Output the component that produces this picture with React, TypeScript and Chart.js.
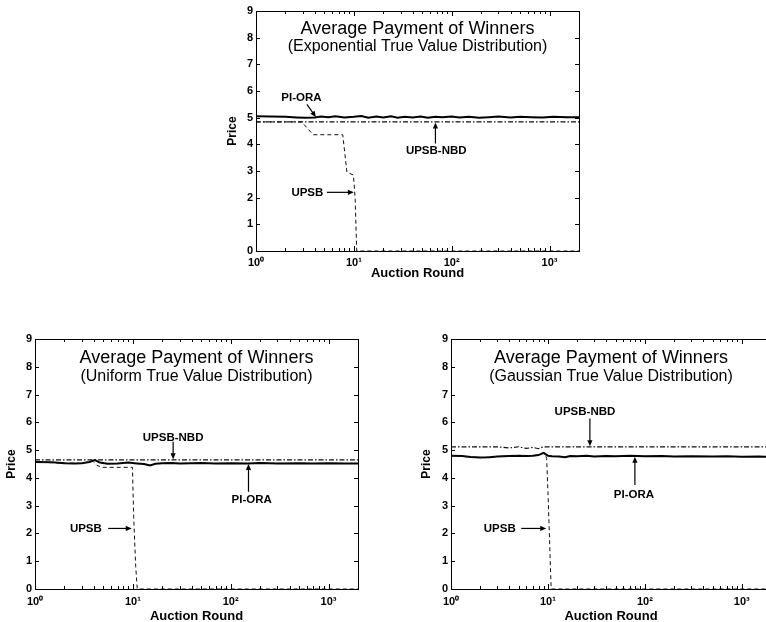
import React, { useEffect, useRef } from 'react';
import { Chart, registerables } from 'chart.js';

Chart.register(...registerables);

const FONT = '"Liberation Sans", Arial, Helvetica, sans-serif';

// ---------- axis ticks ----------
const yTickValues = [0, 1, 2, 3, 4, 5, 6, 7, 8, 9];
const xTickValues = [1, 10, 100, 1000];
const xTickLabels = ['10\u2070', '10\u00b9', '10\u00b2', '10\u00b3'];
const xMin = 1;
const xMax = 2000;

const titleLine1 = 'Average Payment of Winners';
const expSubtitle = '(Exponential True Value Distribution)';
const uniSubtitle = '(Uniform True Value Distribution)';
const gauSubtitle = '(Gaussian True Value Distribution)';

// ---------- Exponential ----------
const expPiOraRounds = [1, 1.4, 2, 2.6, 3.2, 4, 4.6, 5.5, 6.5, 8, 10, 12, 14, 17, 20, 24, 28, 33, 40, 48, 57, 68, 80, 100, 120, 150, 190, 240, 300, 400, 500, 650, 850, 1100, 1500, 2000];
const expPiOraPrice = [5.05, 5.04, 5.03, 5.01, 5.0, 5.01, 5.04, 5.02, 5.05, 5.01, 5.03, 5.06, 5.0, 5.04, 5.01, 5.05, 5.0, 5.03, 5.01, 5.04, 5.0, 5.03, 5.02, 5.04, 5.01, 5.03, 5.0, 5.02, 5.04, 5.01, 5.03, 5.02, 5.01, 5.03, 5.02, 5.02];
const expNbdRounds = [1, 2000];
const expNbdPrice = [4.84, 4.84];
const expUpsbRounds = [1, 2.93, 3.85, 7.7, 8.5, 9.9, 10.3, 10.7, 2000];
const expUpsbPrice = [4.84, 4.84, 4.36, 4.36, 2.95, 2.85, 2.0, 0, 0];

// ---------- Uniform ----------
const uniPiOraRounds = [1, 1.5, 2, 2.5, 3, 3.6, 4.1, 4.6, 5.5, 7, 9, 11, 13, 15, 17, 20, 25, 30, 40, 50, 70, 100, 150, 200, 300, 500, 700, 1000, 1500, 2000];
const uniPiOraPrice = [4.57, 4.56, 4.53, 4.52, 4.53, 4.57, 4.64, 4.55, 4.51, 4.52, 4.55, 4.52, 4.5, 4.45, 4.51, 4.53, 4.54, 4.52, 4.53, 4.54, 4.52, 4.53, 4.52, 4.54, 4.52, 4.53, 4.52, 4.53, 4.52, 4.52];
const uniNbdRounds = [1, 2000];
const uniNbdPrice = [4.65, 4.65];
const uniUpsbRounds = [1, 2, 3, 3.9, 4.3, 4.8, 9.9, 10.2, 10.5, 10.7, 11.1, 2000];
const uniUpsbPrice = [4.57, 4.53, 4.53, 4.6, 4.45, 4.38, 4.38, 2.6, 1.5, 0.8, 0, 0];

// ---------- Gaussian ----------
const gauPiOraRounds = [1, 1.3, 1.6, 2, 2.5, 3, 4, 5, 6, 7, 8, 9, 10, 11, 13, 15, 17, 20, 25, 30, 40, 50, 70, 100, 150, 200, 300, 500, 700, 1000, 1500, 2000];
const gauPiOraPrice = [4.8, 4.79, 4.75, 4.73, 4.74, 4.77, 4.79, 4.8, 4.79, 4.8, 4.82, 4.9, 4.8, 4.78, 4.77, 4.74, 4.79, 4.78, 4.8, 4.77, 4.79, 4.78, 4.8, 4.78, 4.79, 4.77, 4.78, 4.77, 4.78, 4.76, 4.77, 4.75];
const gauNbdRounds = [1, 3, 4, 5, 6, 7, 8, 9, 2000];
const gauNbdPrice = [5.12, 5.12, 5.08, 5.12, 5.06, 5.1, 5.05, 5.12, 5.12];
const gauUpsbRounds = [1, 2, 3, 5, 7, 8.5, 9.3, 9.7, 10, 10.3, 10.6, 10.8, 2000];
const gauUpsbPrice = [4.8, 4.73, 4.77, 4.8, 4.8, 4.85, 4.9, 4.7, 3.5, 2.2, 0.8, 0, 0];

// ---------- annotations (data coordinates) ----------
type Note = { text: string; tx: number; ty: number; from: [number, number]; to: [number, number] };

const expNotes: Note[] = [
  { text: 'PI-ORA', tx: 2.91, ty: 5.73, from: [3.31, 5.5], to: [4.1, 5.02] },
  { text: 'UPSB-NBD', tx: 69.5, ty: 3.74, from: [68.2, 4.03], to: [68.2, 4.82] },
  { text: 'UPSB', tx: 3.35, ty: 2.19, from: [5.3, 2.2], to: [10.0, 2.2] },
];
const uniNotes: Note[] = [
  { text: 'UPSB-NBD', tx: 25.8, ty: 5.45, from: [25.8, 5.3], to: [25.8, 4.67] },
  { text: 'PI-ORA', tx: 164, ty: 3.2, from: [152, 3.5], to: [152, 4.5] },
  { text: 'UPSB', tx: 3.31, ty: 2.16, from: [5.6, 2.18], to: [9.74, 2.18] },
];
const gauNotes: Note[] = [
  { text: 'UPSB-NBD', tx: 24.1, ty: 6.38, from: [27.1, 6.14], to: [27.1, 5.14] },
  { text: 'PI-ORA', tx: 77.1, ty: 3.38, from: [78.9, 3.74], to: [78.9, 4.76] },
  { text: 'UPSB', tx: 3.18, ty: 2.16, from: [5.3, 2.18], to: [9.6, 2.18] },
];

type Box = { left: number; top: number; width: number; height: number };
type Area = { left: number; top: number; right: number; bottom: number };

type PanelSpec = {
  subtitle: string;
  piRounds: number[]; piPrice: number[];
  nbdRounds: number[]; nbdPrice: number[];
  upsbRounds: number[]; upsbPrice: number[];
  notes: Note[];
  canvas: Box;
  area: Area;
  yTitlePad: number;
  xTitlePad: number;
  xTickPad: number;
};

const panels: PanelSpec[] = [
  {
    subtitle: expSubtitle,
    piRounds: expPiOraRounds, piPrice: expPiOraPrice,
    nbdRounds: expNbdRounds, nbdPrice: expNbdPrice,
    upsbRounds: expUpsbRounds, upsbPrice: expUpsbPrice,
    notes: expNotes,
    canvas: { left: 220, top: 0, width: 380, height: 290 },
    area: { left: 256, top: 11, right: 579, bottom: 251 },
    yTitlePad: 5.3,
    xTitlePad: 9,
    xTickPad: 5,
  },
  {
    subtitle: uniSubtitle,
    piRounds: uniPiOraRounds, piPrice: uniPiOraPrice,
    nbdRounds: uniNbdRounds, nbdPrice: uniNbdPrice,
    upsbRounds: uniUpsbRounds, upsbPrice: uniUpsbPrice,
    notes: uniNotes,
    canvas: { left: 0, top: 320, width: 380, height: 320 },
    area: { left: 35, top: 339, right: 358, bottom: 589 },
    yTitlePad: 4.8,
    xTitlePad: 16,
    xTickPad: 6,
  },
  {
    subtitle: gauSubtitle,
    piRounds: gauPiOraRounds, piPrice: gauPiOraPrice,
    nbdRounds: gauNbdRounds, nbdPrice: gauNbdPrice,
    upsbRounds: gauUpsbRounds, upsbPrice: gauUpsbPrice,
    notes: gauNotes,
    canvas: { left: 410, top: 320, width: 380, height: 320 },
    area: { left: 451, top: 339, right: 771, bottom: 589 },
    yTitlePad: 9.8,
    xTitlePad: 16,
    xTickPad: 6,
  },
];

const framePlugin = {
  id: 'frame',
  afterDatasetsDraw(chart: any) {
    const { ctx, chartArea } = chart;
    const { left, right, top, bottom } = chartArea;
    const xs = chart.scales.x;
    const ys = chart.scales.y;
    ctx.save();
    ctx.strokeStyle = '#000';
    ctx.lineWidth = 1;
    ctx.setLineDash([]);
    ctx.strokeRect(left + 0.5, top + 0.5, right - left, bottom - top);
    ctx.beginPath();
    for (const d of xTickValues) {
      for (let m = 1; m <= 9; m++) {
        const v = d * m;
        if (v < xMin || v > xMax) continue;
        const px = Math.round(xs.getPixelForValue(v)) + 0.5;
        const len = m === 1 ? 5 : 3;
        ctx.moveTo(px, bottom);
        ctx.lineTo(px, bottom - len);
        ctx.moveTo(px, top);
        ctx.lineTo(px, top + len);
      }
    }
    for (const v of yTickValues) {
      const py = Math.round(ys.getPixelForValue(v)) + 0.5;
      ctx.moveTo(left, py);
      ctx.lineTo(left + 4, py);
      ctx.moveTo(right, py);
      ctx.lineTo(right - 4, py);
    }
    ctx.stroke();
    ctx.restore();
  },
};

function makeNotesPlugin(spec: PanelSpec) {
  return {
    id: 'notes',
    afterDraw(chart: any) {
      const { ctx, chartArea } = chart;
      const xs = chart.scales.x;
      const ys = chart.scales.y;
      ctx.save();
      ctx.fillStyle = '#000';
      ctx.strokeStyle = '#000';
      ctx.textAlign = 'center';
      ctx.textBaseline = 'middle';
      const cx = (chartArea.left + chartArea.right) / 2;
      ctx.font = `18px ${FONT}`;
      ctx.fillText(titleLine1, cx, ys.getPixelForValue(8.33));
      ctx.font = `16px ${FONT}`;
      ctx.fillText(spec.subtitle, cx, ys.getPixelForValue(7.65));

      ctx.font = `bold 11.5px ${FONT}`;
      for (const n of spec.notes) {
        ctx.fillText(n.text, xs.getPixelForValue(n.tx), ys.getPixelForValue(n.ty));
        const x1 = xs.getPixelForValue(n.from[0]);
        const y1 = ys.getPixelForValue(n.from[1]);
        const x2 = xs.getPixelForValue(n.to[0]);
        const y2 = ys.getPixelForValue(n.to[1]);
        const ang = Math.atan2(y2 - y1, x2 - x1);
        const hl = 6;
        const hw = 2.6;
        ctx.lineWidth = 1.2;
        ctx.beginPath();
        ctx.moveTo(x1, y1);
        ctx.lineTo(x2 - Math.cos(ang) * hl * 0.8, y2 - Math.sin(ang) * hl * 0.8);
        ctx.stroke();
        ctx.beginPath();
        ctx.moveTo(x2, y2);
        ctx.lineTo(
          x2 - Math.cos(ang) * hl - Math.sin(ang) * hw,
          y2 - Math.sin(ang) * hl + Math.cos(ang) * hw
        );
        ctx.lineTo(
          x2 - Math.cos(ang) * hl + Math.sin(ang) * hw,
          y2 - Math.sin(ang) * hl - Math.cos(ang) * hw
        );
        ctx.closePath();
        ctx.fill();
      }
      ctx.restore();
    },
  };
}

function toPoints(rounds: number[], price: number[]) {
  return rounds.map((r, i) => ({ x: r, y: price[i] }));
}

function Panel({ spec }: { spec: PanelSpec }) {
  const ref = useRef<HTMLCanvasElement | null>(null);
  const c = spec.canvas;
  const a = spec.area;
  useEffect(() => {
    if (!ref.current) return;
    const chart = new Chart(ref.current, {
      type: 'line',
      data: {
        datasets: [
          {
            label: 'UPSB',
            data: toPoints(spec.upsbRounds, spec.upsbPrice),
            borderColor: '#111',
            borderWidth: 1,
            borderDash: [4, 3],
            pointRadius: 0,
            fill: false,
            tension: 0,
          },
          {
            label: 'UPSB-NBD',
            data: toPoints(spec.nbdRounds, spec.nbdPrice),
            borderColor: '#111',
            borderWidth: 1.2,
            borderDash: [5, 2, 1.5, 2],
            pointRadius: 0,
            fill: false,
            tension: 0,
          },
          {
            label: 'PI-ORA',
            data: toPoints(spec.piRounds, spec.piPrice),
            borderColor: '#000',
            borderWidth: 2,
            pointRadius: 0,
            fill: false,
            tension: 0,
          },
        ],
      } as any,
      options: {
        animation: false,
        responsive: false,
        devicePixelRatio: 1,
        layout: {
          padding: { left: 0, top: a.top - c.top, right: c.left + c.width - a.right, bottom: 0 },
        },
        plugins: {
          legend: { display: false },
          tooltip: { enabled: false },
          title: { display: false },
        },
        scales: {
          x: {
            type: 'logarithmic',
            min: xMin,
            max: xMax,
            grid: { display: false, drawTicks: false },
            border: { display: false },
            ticks: {
              autoSkip: false,
              maxRotation: 0,
              padding: spec.xTickPad,
              color: '#000',
              font: { family: FONT, size: 11, weight: 'bold' },
              callback: (v: any) => {
                const i = xTickValues.indexOf(Number(v));
                return i >= 0 ? xTickLabels[i] : '';
              },
            },
            afterBuildTicks: (s: any) => {
              s.ticks = xTickValues.map((v) => ({ value: v }));
            },
            afterFit: (s: any) => {
              s.height = c.top + c.height - a.bottom;
              s.paddingLeft = 0;
              s.paddingRight = 0;
            },
            title: {
              display: true,
              text: 'Auction Round',
              color: '#000',
              font: { family: FONT, size: 13, weight: 'bold' },
              padding: { top: 0, bottom: spec.xTitlePad },
            },
          },
          y: {
            type: 'linear',
            min: 0,
            max: 9,
            grid: { display: false, drawTicks: false },
            border: { display: false },
            ticks: {
              stepSize: 1,
              padding: 3,
              color: '#000',
              font: { family: FONT, size: 11, weight: 'bold' },
            },
            afterFit: (s: any) => {
              s.width = a.left - c.left;
              s.paddingTop = 0;
              s.paddingBottom = 0;
            },
            title: {
              display: true,
              text: 'Price',
              color: '#000',
              font: { family: FONT, size: 12, weight: 'bold' },
              padding: { top: spec.yTitlePad, bottom: 0 },
            },
          },
        },
      } as any,
      plugins: [framePlugin, makeNotesPlugin(spec)],
    });
    return () => chart.destroy();
  }, []);
  return (
    <canvas
      ref={ref}
      width={c.width}
      height={c.height}
      style={{ position: 'absolute', left: c.left, top: c.top, width: c.width, height: c.height }}
    />
  );
}

export default function App() {
  return (
    <div
      style={{
        position: 'fixed',
        left: 0,
        top: 0,
        width: 766,
        height: 622,
        overflow: 'hidden',
        background: '#fff',
      }}
    >
      {panels.map((p, i) => (
        <Panel key={i} spec={p} />
      ))}
    </div>
  );
}
